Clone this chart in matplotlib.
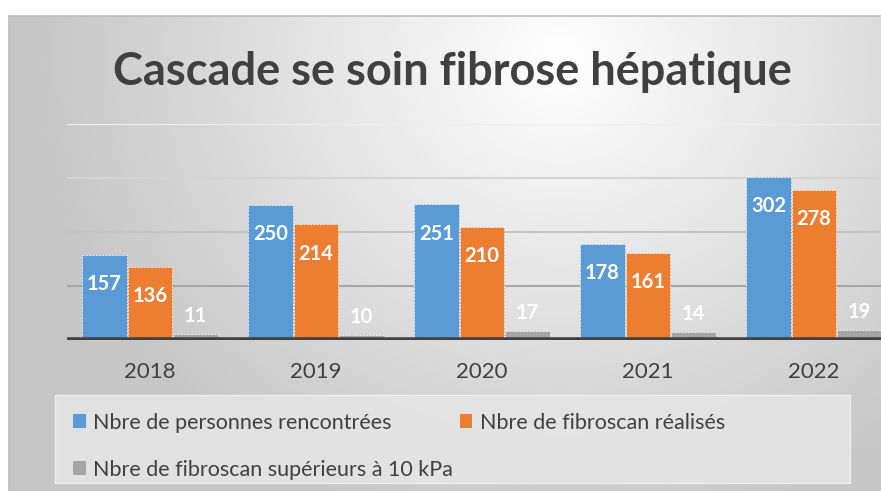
import numpy as np
import matplotlib.pyplot as plt
from matplotlib.patches import Rectangle, Patch

# Data
years = ['2018', '2019', '2020', '2021', '2022']
personnes = [157, 250, 251, 178, 302]
fibroscan = [136, 214, 210, 161, 278]
sup_10kpa = [11, 10, 17, 14, 19]

series_names = ['Nbre de personnes rencontrées',
                'Nbre de fibroscan réalisés',
                'Nbre de fibroscan supérieurs à 10 kPa']
colors = ['#5B9BD5', '#ED7D31', '#A5A5A5']

plt.rcParams['font.family'] = ['Lato', 'DejaVu Sans']

W, H = 881, 491
fig = plt.figure(figsize=(W / 100, H / 100), dpi=100)

# Background: chart frame with a soft radial gradient
bg = fig.add_axes([0, 0, 1, 1])
bg.set_xlim(0, W)
bg.set_ylim(H, 0)
bg.axis('off')
xx, yy = np.meshgrid(np.arange(W), np.arange(H))
d = np.sqrt(((xx - 560) / 520.0) ** 2 + ((yy - 60) / 480.0) ** 2)
shade = 1.0 - 0.22 * np.clip(d, 0, 1)
img = np.dstack([shade, shade, shade])
img[:16, :, :] = 1.0
img[:, :9, :] = 1.0
bg.imshow(img, extent=[0, W, H, 0], aspect='auto', zorder=0)
bg.plot([9, W], [16, 16], color='#bdbdbd', lw=1.2, zorder=1)
bg.plot([9, 9], [16, H], color='#bdbdbd', lw=1.2, zorder=1)

# Legend background box
bg.add_patch(Rectangle((55, 395), 795, 88, facecolor='#e6e6e6', edgecolor='#f2f2f2',
                       lw=1, alpha=0.85, zorder=2))

fig.text(452 / W, 1 - 72 / H, 'Cascade se soin fibrose hépatique', ha='center', va='center',
         fontsize=32.5, fontweight='bold', color='#404040')

# Main axes
ax = fig.add_axes([67 / W, 1 - 340 / H, 830 / W, 216 / H])
ax.set_facecolor('none')
x = np.arange(len(years))
bw = 0.27
offs = [-0.275, 0.0, 0.275]
all_vals = [personnes, fibroscan, sup_10kpa]

for vals, off, c in zip(all_vals, offs, colors):
    ax.bar(x + off, vals, bw, color=c, edgecolor='#ffffff', linewidth=0.6,
           linestyle=(0, (2, 2)), zorder=3)

for vals, off in zip(all_vals[:2], offs[:2]):
    for xi, v in zip(x, vals):
        ax.annotate(str(v), (xi + off, v), xytext=(0, -21), textcoords='offset points',
                    ha='center', va='center', color='white', fontsize=14.5, fontweight='bold',
                    zorder=5)
for xi, v in zip(x, sup_10kpa):
    ax.annotate(str(v), (xi + offs[2], v), xytext=(0, 13), textcoords='offset points',
                ha='center', va='center', color='white', fontsize=14.5, fontweight='bold',
                zorder=5)

ax.set_xlim(-0.5, len(years) - 0.5)
ax.set_ylim(0, 400)
ax.set_yticks([100, 200, 300, 400])
ax.yaxis.grid(True, lw=1.5)
ax.set_axisbelow(True)
for gl, gc in zip(ax.get_ygridlines(), ['#a6a6a6', '#c4c4c4', '#d4d4d4', '#eeeeee']):
    gl.set_color(gc)
ax.tick_params(axis='y', left=False, labelleft=False)
ax.axhline(0, color='#404040', lw=4, zorder=4)

ax.set_xticks(x)
ax.set_xticklabels(years, fontsize=16, color='#404040')
ax.tick_params(axis='x', length=0, pad=16)
for s in ax.spines.values():
    s.set_visible(False)

handles = [Patch(facecolor=colors[0]), Patch(facecolor=colors[2]), Patch(facecolor=colors[1])]
labels = [series_names[0], series_names[2], series_names[1]]
fig.legend(handles, labels, loc='upper left', bbox_to_anchor=(62 / W, 1 - 402 / H),
           ncol=2, frameon=False, fontsize=15.5, labelcolor='#404040',
           handlelength=0.6, handleheight=0.6, handletextpad=0.35,
           columnspacing=0.3, labelspacing=1.25, borderpad=0)

fig.savefig('out.png', dpi=100)
